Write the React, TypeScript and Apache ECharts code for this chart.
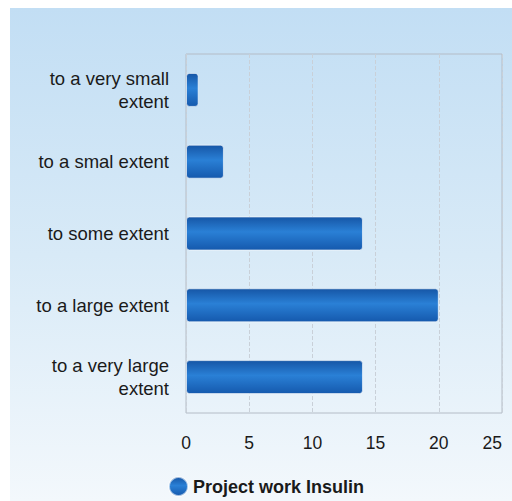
import React, { useEffect, useRef } from "react";
import * as echarts from "echarts";

const categories = [
  "to a very small\nextent",
  "to a smal extent",
  "to some extent",
  "to a large extent",
  "to a very large\nextent",
];
const values = [1, 3, 14, 20, 14];
const seriesName = "Project work Insulin";
const xTicks = { min: 0, max: 25, interval: 5 };

export default function App() {
  const ref = useRef<HTMLDivElement>(null);
  useEffect(() => {
    if (!ref.current) return;
    const chart = echarts.init(ref.current, undefined, { renderer: "svg" });
    const barGrad = new echarts.graphic.LinearGradient(0, 0, 0, 1, [
      { offset: 0, color: "#1656a6" },
      { offset: 0.45, color: "#2a80d6" },
      { offset: 1, color: "#1559ad" },
    ]);
    const font = "Liberation Sans, Arial, sans-serif";
    chart.setOption({
      animation: false,
      textStyle: { fontFamily: font },
      graphic: [
        {
          type: "rect",
          z: -10,
          shape: { x: 10, y: 8, width: 502, height: 493 },
          style: {
            fill: new echarts.graphic.LinearGradient(0, 0, 0, 1, [
              { offset: 0, color: "#c2def4" },
              { offset: 0.5, color: "#d8eaf7" },
              { offset: 1, color: "#f3f8fc" },
            ]),
          },
          silent: true,
        },
      ],
      grid: {
        left: 186,
        right: 10,
        top: 54,
        bottom: 88,
        show: true,
        borderColor: "#b4bcc6",
        borderWidth: 1,
        backgroundColor: "transparent",
      },
      legend: {
        left: 163,
        top: 471,
        icon: "circle",
        itemWidth: 19,
        itemHeight: 19,
        itemGap: 5,
        textStyle: { fontSize: 18, fontWeight: "bold", color: "#1a1a1a", fontFamily: font },
        data: [seriesName],
      },
      xAxis: {
        type: "value",
        min: xTicks.min,
        max: xTicks.max,
        interval: xTicks.interval,
        axisLine: { show: false },
        axisTick: { show: false },
        axisLabel: { fontSize: 17.5, color: "#1a1a1a", margin: 21, alignMaxLabel: "right" },
        splitLine: { show: true, lineStyle: { color: "#c9d0d8", type: "dashed", width: 1 } },
      },
      yAxis: {
        type: "category",
        inverse: true,
        data: categories,
        axisLine: { show: false },
        axisTick: { show: false },
        axisLabel: { fontSize: 18.5, color: "#1a1a1a", margin: 17, lineHeight: 23, align: "right" },
      },
      series: [
        {
          name: seriesName,
          type: "bar",
          data: values,
          barWidth: 34,
          itemStyle: {
            color: barGrad,
            borderRadius: 3,
            borderColor: "rgba(255,255,255,0.6)",
            borderWidth: 1,
          },
        },
      ],
    });
    return () => chart.dispose();
  }, []);
  return (
    <div
      ref={ref}
      style={{ position: "fixed", left: 0, top: 0, width: 512, height: 501, background: "#ffffff" }}
    />
  );
}
